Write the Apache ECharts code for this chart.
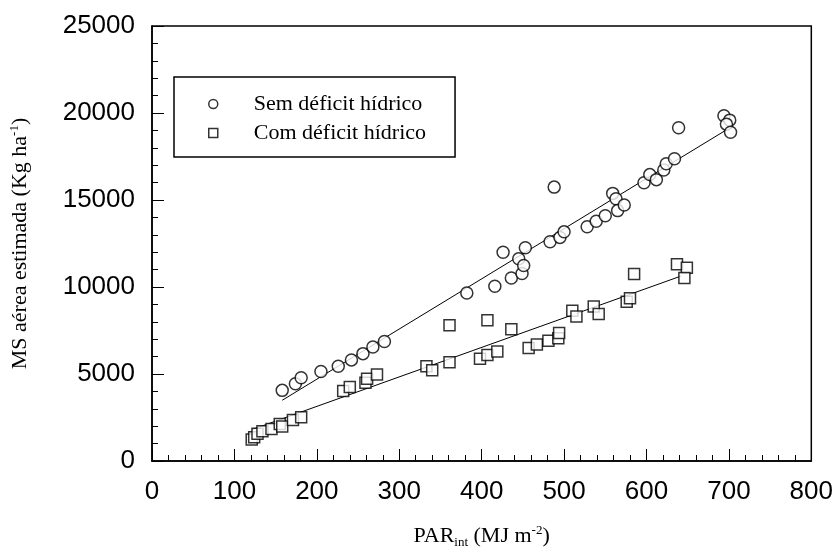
<!DOCTYPE html>
<html>
<head>
<meta charset="utf-8">
<script src="https://cdn.jsdelivr.net/npm/echarts@6/dist/echarts.min.js"></script>
<style>
  html, body { margin: 0; padding: 0; background: #fff; }
  #chart { width: 836px; height: 554px; }
</style>
</head>
<body>
<div id="chart"></div>
<script>
// Sem déficit hídrico: [PAR, MS]
var semDeficit = [
  [158, 4060], [174, 4440], [181, 4780], [205, 5140], [226, 5450], [242, 5810],
  [256, 6170], [268, 6550], [282, 6870], [382, 9660], [416, 10040], [426, 12000],
  [436, 10520], [445, 11620], [449, 10780], [451, 11240], [453, 12260], [483, 12600],
  [488, 15740], [495, 12850], [500, 13170], [528, 13460], [539, 13780], [550, 14090],
  [559, 15380], [563, 15070], [565, 14390], [573, 14710], [597, 15990], [604, 16460],
  [612, 16170], [621, 16720], [624, 17080], [634, 17370], [639, 19150], [694, 19840],
  [701, 19590], [697, 19360], [702, 18890]
];
// Com déficit hídrico
var comDeficit = [
  [121, 1240], [124, 1370], [128, 1560], [134, 1710], [145, 1840], [155, 2130],
  [158, 1980], [171, 2350], [181, 2510], [232, 4030], [240, 4250], [259, 4500],
  [261, 4730], [273, 4970], [333, 5450], [340, 5220], [361, 7800], [361, 5680],
  [398, 5870], [407, 8090], [407, 6090], [419, 6300], [436, 7570], [457, 6490],
  [467, 6700], [481, 6910], [493, 7060], [494, 7350], [510, 8640], [515, 8300],
  [536, 8880], [542, 8450], [576, 9150], [580, 9360], [585, 10740], [637, 11310],
  [649, 11110], [646, 10520]
];
// fitted lines (end points)
var fitSem = [[158, 3490], [698, 19060]];
var fitCom = [[121, 1800], [642, 10630]];

var xTicks = [0, 100, 200, 300, 400, 500, 600, 700, 800];
var yTicks = [0, 5000, 10000, 15000, 20000, 25000];

var chart = echarts.init(document.getElementById('chart'));

var markStyle = { color: '#fff', borderColor: '#000', borderWidth: 1.5 };
var serif = 'Liberation Serif';

chart.setOption({
  animation: false,
  grid: {
    left: 148, right: 23, top: 26, bottom: 90,
    show: true, borderColor: '#000', borderWidth: 1.5
  },
  legend: {
    orient: 'vertical',
    left: 174, top: 77,
    padding: [16, 29, 13, 34],
    itemGap: 7,
    itemWidth: 9, itemHeight: 9,
    borderColor: '#000', borderWidth: 1.5,
    textStyle: {
      fontFamily: serif, fontSize: 22, color: '#000',
      padding: [0, 0, 0, 31]
    },
    data: [
      { name: 'Sem déficit hídrico', icon: 'circle', itemStyle: markStyle },
      { name: 'Com déficit hídrico', icon: 'rect', itemStyle: markStyle }
    ]
  },
  xAxis: {
    type: 'value',
    min: xTicks[0], max: xTicks[xTicks.length - 1], interval: 100,
    name: '{t|PAR}{sub|int}{t| (MJ m}{sup|-2}{t|)}',
    nameLocation: 'middle', nameGap: 63,
    nameTextStyle: {
      rich: {
        t: { fontFamily: serif, fontSize: 22, color: '#000', verticalAlign: 'middle' },
        sub: { fontFamily: serif, fontSize: 13, color: '#000', padding: [12, 0, 0, 0] },
        sup: { fontFamily: serif, fontSize: 13, color: '#000', padding: [0, 0, 11, 0] }
      }
    },
    axisLine: { lineStyle: { color: '#000', width: 1.5 } },
    axisTick: { inside: true, length: 12, lineStyle: { color: '#000' } },
    minorTick: { show: true, splitNumber: 5, length: 6, lineStyle: { color: '#000' } },
    splitLine: { show: false },
    axisLabel: { fontFamily: 'Liberation Sans', fontSize: 26, color: '#000', margin: 18 }
  },
  yAxis: {
    type: 'value',
    min: yTicks[0], max: yTicks[yTicks.length - 1], interval: 5000,
    name: '{t|MS aérea estimada (Kg ha}{sup|-1}{t|)}',
    nameLocation: 'middle', nameGap: 120, nameRotate: 90,
    nameTextStyle: {
      rich: {
        t: { fontFamily: serif, fontSize: 22, color: '#000', verticalAlign: 'middle' },
        sup: { fontFamily: serif, fontSize: 13, color: '#000', padding: [0, 0, 11, 0] }
      }
    },
    axisLine: { lineStyle: { color: '#000', width: 1.5 } },
    axisTick: { inside: true, length: 12, lineStyle: { color: '#000' } },
    minorTick: { show: true, splitNumber: 5, length: 6, lineStyle: { color: '#000' } },
    splitLine: { show: false },
    axisLabel: {
      fontFamily: 'Liberation Sans', fontSize: 26, color: '#000', margin: 17,
      formatter: function (v) { return String(v); }
    }
  },
  series: [
    {
      name: 'fitSem', type: 'line', data: fitSem, symbol: 'none', z: 1,
      lineStyle: { color: '#000', width: 1 }
    },
    {
      name: 'fitCom', type: 'line', data: fitCom, symbol: 'none', z: 1,
      lineStyle: { color: '#000', width: 1 }
    },
    {
      name: 'Sem déficit hídrico', type: 'scatter', data: semDeficit,
      symbol: 'circle', symbolSize: 12, z: 3, itemStyle: markStyle
    },
    {
      name: 'Com déficit hídrico', type: 'scatter', data: comDeficit,
      symbol: 'rect', symbolSize: 11, z: 3, itemStyle: markStyle
    }
  ]
});
</script>
</body>
</html>
